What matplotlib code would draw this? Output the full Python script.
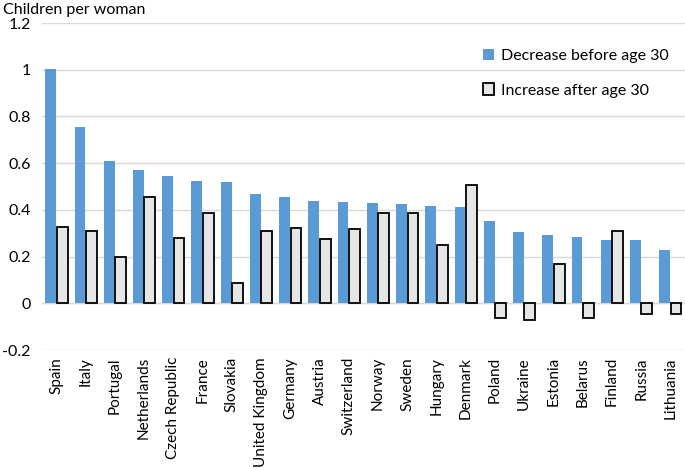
import matplotlib
matplotlib.use("Agg")
import matplotlib.pyplot as plt
import numpy as np

plt.rcParams['font.family'] = ['Lato', 'DejaVu Sans']

countries = ["Spain", "Italy", "Portugal", "Netherlands", "Czech Republic", "France",
             "Slovakia", "United Kingdom", "Germany", "Austria", "Switzerland", "Norway",
             "Sweden", "Hungary", "Denmark", "Poland", "Ukraine", "Estonia", "Belarus",
             "Finland", "Russia", "Lithuania"]
decrease = [1.005, 0.754, 0.61, 0.569, 0.544, 0.524, 0.52, 0.47, 0.454, 0.44, 0.436,
            0.431, 0.426, 0.416, 0.411, 0.353, 0.306, 0.293, 0.286, 0.27, 0.27, 0.23]
increase = [0.327, 0.311, 0.198, 0.456, 0.279, 0.389, 0.089, 0.311, 0.323, 0.276, 0.32,
            0.389, 0.389, 0.249, 0.506, -0.062, -0.072, 0.167, -0.062, 0.311, -0.044, -0.046]
yticks = [-0.2, 0, 0.2, 0.4, 0.6, 0.8, 1, 1.2]
ytick_labels = ["-0.2", "0", "0.2", "0.4", "0.6", "0.8", "1", "1.2"]

x = np.arange(len(countries))
width = 0.37

fig = plt.figure(figsize=(6.85, 4.7), dpi=100)
ax = fig.add_axes([0.061, 0.255, 0.939, 0.696])

ax.bar(x - 0.195, decrease, width, color="#5B9BD5", label="Decrease before age 30", zorder=3)
ax.bar(x + 0.195, increase, width, color="#E7E6E6", edgecolor="black", linewidth=1.3,
       label="Increase after age 30", zorder=3)

ax.set_xlim(-0.5, len(countries) - 0.5)
ax.set_ylim(-0.2, 1.2)
ax.set_yticks(yticks)
ax.set_yticklabels(ytick_labels, fontsize=11.5)
ax.yaxis.grid(True, color="#D9D9D9", linewidth=1)
ax.axhline(0, color="#D9D9D9", linewidth=1, zorder=2)
ax.set_xticks(x)
ax.set_xticklabels(countries, rotation=90, fontsize=11)
ax.tick_params(axis='both', length=0)
ax.tick_params(axis='y', pad=8)
ax.tick_params(axis='x', pad=5)
for s in ax.spines.values():
    s.set_visible(False)

fig.text(0.005, 0.978, "Children per woman", fontsize=11.5, va="center", ha="left")

ax.legend(loc="upper left", bbox_to_anchor=(0.686, 0.92), frameon=False, fontsize=11.5,
          borderpad=0, borderaxespad=0,
          handlelength=0.7, handleheight=0.7, handletextpad=0.4, labelspacing=1.25)

fig.savefig("out.png", dpi=100)
